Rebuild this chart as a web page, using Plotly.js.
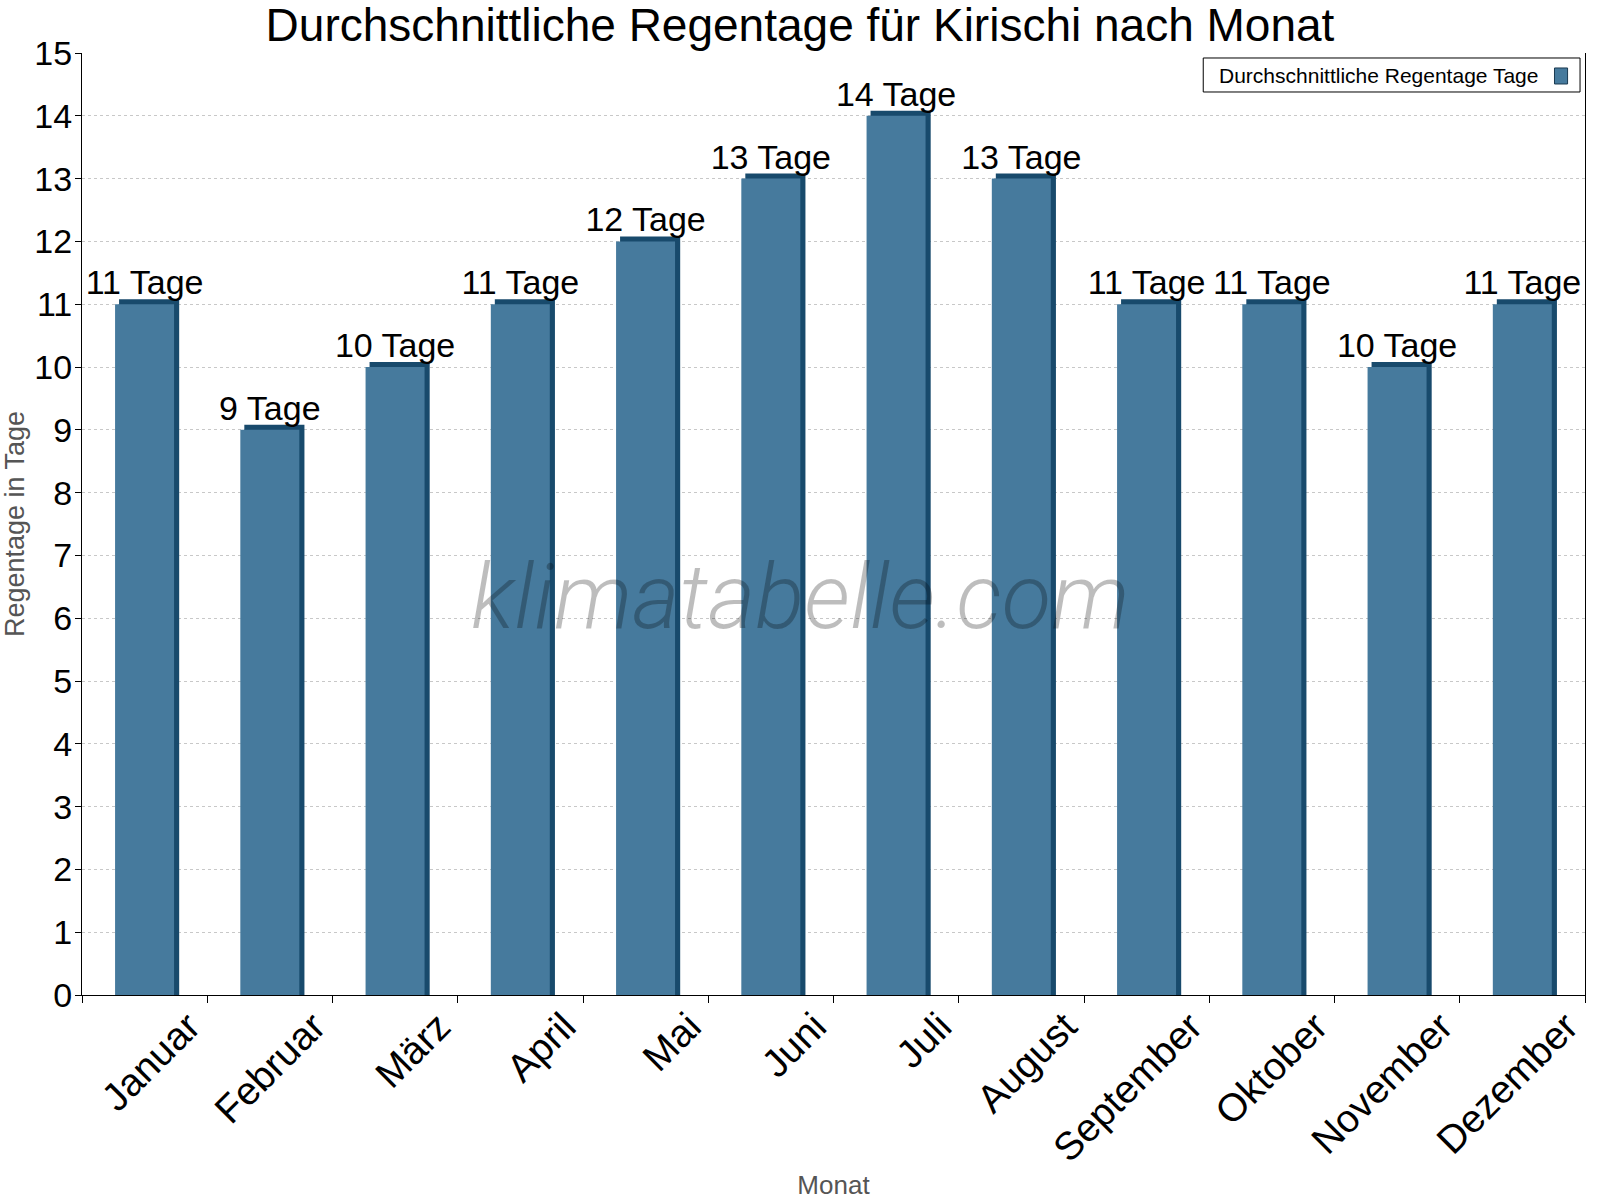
<!DOCTYPE html>
<html>
<head>
<meta charset="utf-8">
<script src="https://cdn.plot.ly/plotly-3.0.1.min.js"></script>
<style>html,body{margin:0;padding:0;background:#fff}#chart{width:1600px;height:1200px}</style>
</head>
<body>
<div id="chart"></div>
<script>
const months = ["Januar","Februar","März","April","Mai","Juni","Juli","August","September","Oktober","November","Dezember"];
const rainDays = [11, 9, 10, 11, 12, 13, 14, 13, 11, 11, 10, 11];
const unitLabel = "Tage";
const seriesName = "Durchschnittliche Regentage Tage";
const chartTitle = "Durchschnittliche Regentage für Kirischi nach Monat";
const yTitle = "Regentage in Tage";
const xTitle = "Monat";

const frontColor = "#467a9d";
const sideColor = "#184a6c";
const depthY = 0.08;
const FONT = "Liberation Sans, Arial, sans-serif";

const sideTrace = {
  type: "bar", x: months, y: rainDays.map(v => v + depthY),
  width: 0.48, offset: -0.204,
  marker: {color: sideColor, line: {width: 0}},
  hoverinfo: "skip", showlegend: false
};
const frontTrace = {
  type: "bar", x: months, y: rainDays, name: seriesName,
  width: 0.471, offset: -0.236,
  marker: {color: frontColor, line: {width: 0}},
  texttemplate: "%{y} " + unitLabel, textposition: "outside",
  constraintext: "none", cliponaxis: false,
  textfont: {family: FONT, size: 34, color: "#000"},
  showlegend: false
};

const layout = {
  width: 1600, height: 1200,
  margin: {l: 82, r: 15, t: 53, b: 205},
  paper_bgcolor: "#fff", plot_bgcolor: "#fff",
  barmode: "overlay",
  font: {family: FONT, color: "#000"},
  title: {text: chartTitle, x: 0.5, xanchor: "center", y: 0.979, yanchor: "middle",
          font: {family: FONT, size: 46, color: "#000"}},
  xaxis: {
    type: "category", tickangle: -45, tickson: "boundaries",
    ticks: "outside", ticklen: 7, tickcolor: "#000",
    ticklabelshift: 44, ticklabelstandoff: -8,
    showline: true, linecolor: "#000", linewidth: 1,
    showgrid: false, zeroline: false,
    tickfont: {family: FONT, size: 39, color: "#000"},
    title: {text: xTitle, font: {family: FONT, size: 26, color: "#555"}, standoff: 30}
  },
  yaxis: {
    range: [0, 15], dtick: 1, tick0: 0,
    ticks: "outside", ticklen: 6, tickcolor: "#000",
    ticklabelstandoff: -4,
    showline: true, linecolor: "#000", linewidth: 1, mirror: true,
    showgrid: true, gridcolor: "#c8c8c8", griddash: "dot", gridwidth: 1,
    zeroline: false,
    tickfont: {family: FONT, size: 34, color: "#000"},
    title: {text: yTitle, font: {family: FONT, size: 27, color: "#555"}, standoff: 12}
  },
  shapes: [
    {type: "rect", xref: "paper", yref: "paper", x0: 0.746, x1: 0.9967, y0: 0.9586, y1: 0.9947,
     line: {color: "#000", width: 1}, fillcolor: "#fff", layer: "above"},
    {type: "rect", xref: "paper", yref: "paper", x0: 0.9797, x1: 0.9884, y0: 0.9671, y1: 0.9841,
     line: {color: "#1a3a50", width: 1}, fillcolor: frontColor, layer: "above"}
  ],
  annotations: [
    {text: seriesName, xref: "paper", yref: "paper", x: 0.7553, y: 0.9766, xanchor: "left", yanchor: "middle",
     showarrow: false, font: {family: FONT, size: 21, color: "#000"}},
    {text: "<i>klimatabelle.com</i>", xref: "paper", yref: "paper", x: 0.478, y: 0.423,
     xanchor: "center", yanchor: "middle", showarrow: false,
     font: {family: "Roboto, sans-serif", size: 91, weight: 300, color: "rgba(0,0,0,0.26)"}}
  ]
};

Plotly.newPlot("chart", [sideTrace, frontTrace], layout, {displayModeBar: false, staticPlot: true});
</script>
</body>
</html>
